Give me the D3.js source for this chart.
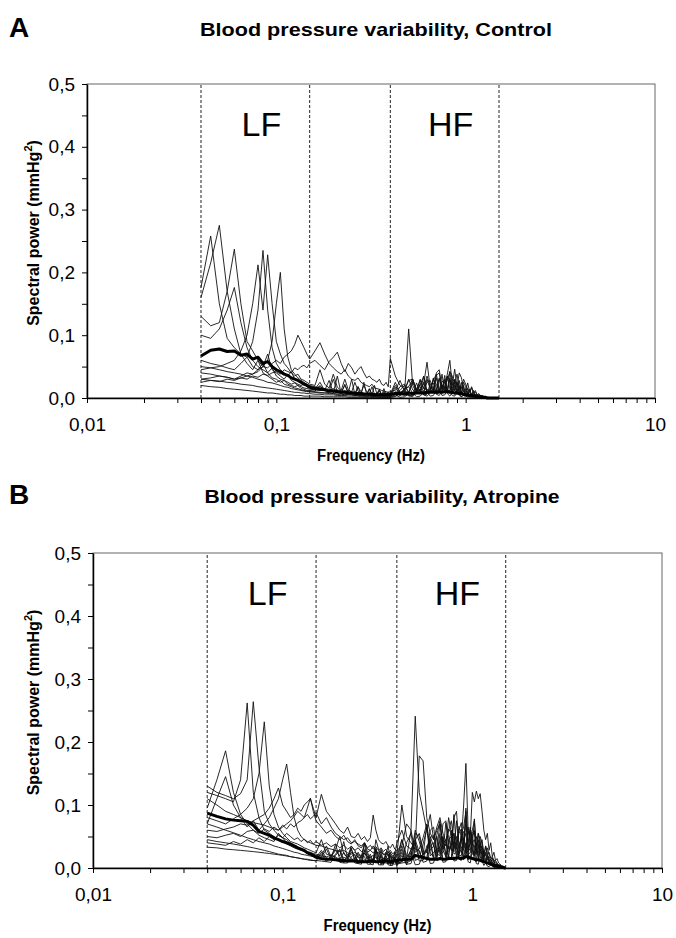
<!DOCTYPE html>
<html><head><meta charset="utf-8">
<script src="https://cdn.jsdelivr.net/npm/d3@7"></script>
<style>
html,body{margin:0;padding:0;background:#fff;}
svg{display:block;font-family:"Liberation Sans",Arial,sans-serif;}
</style></head>
<body><svg id="c" width="676" height="938"></svg>
<script>
// ---------------- DATA ----------------
// Frequency grid (Hz) shared by every spectrum
const freqs = [
 0.040,0.045,0.050,0.055,0.060,0.065,0.070,0.075,0.080,0.085,
 0.090,0.095,0.100,0.105,0.110,0.115,0.120,0.125,0.130,0.135,
 0.140,0.145,0.150,
 0.16,0.17,0.18,0.19,0.20,0.21,0.22,0.23,0.24,0.25,
 0.26,0.27,0.28,0.29,0.30,0.31,0.32,0.33,0.34,0.35,
 0.36,0.37,0.38,0.39,0.40,
 0.425,0.45,0.475,0.5,0.525,0.55,0.575,0.6,0.625,0.65,
 0.675,0.7,0.725,0.75,0.775,0.8,0.825,0.85,0.875,0.9,
 0.925,0.95,0.975,1.0,1.025,1.05,1.075,1.1,1.125,1.15,
 1.175,1.2,1.225,1.25,1.275,1.3,1.325,1.35,1.375,1.4,
 1.425,1.45,1.475,1.5];

// Spectral power values in 0.001 mmHg^2 — Panel A (Control), individual subjects
const a1 = [160,215,275,170,110,70,55,45,60,40,35,30,25,28,22,20,18,16,15,13,12,11,10,
 10,9,8,9,7,6,7,5,6,5,4,5,4,4,3,4,3,3,4,3,3,3,2,3,3,
 3,6,9,4,2,10,12,5,3,8,14,6,4,11,15,7,3,9,6,10,4,2,7,5,1,3,5,2,1,2,0,1,1,0,1,0,0,0,0,0,0,0,0,0];
const a2 = [176,258,150,95,80,70,65,50,45,55,40,32,30,25,28,22,20,18,20,15,14,12,12,
 11,20,12,28,8,35,7,22,8,30,5,18,5,25,5,14,5,20,6,12,3,15,5,10,4,
 6,18,22,9,5,24,10,7,30,14,9,12,32,20,10,35,15,9,30,12,8,25,10,7,15,9,5,12,4,6,3,4,2,1,2,1,1,0,0,0,0,0,0,0];
const a3 = [130,115,120,170,237,150,90,75,60,50,70,45,40,35,30,38,28,25,22,20,22,18,16,
 14,25,12,11,30,10,9,20,8,9,7,18,10,7,6,15,6,7,5,12,5,7,6,5,6,
 20,9,12,28,30,11,13,22,57,16,12,36,40,14,18,28,42,16,24,38,17,15,30,22,14,9,16,6,10,5,6,3,4,2,1,1,0,0,0,0,0,0,0,0];
const a4 = [60,55,52,48,45,55,65,90,140,235,140,80,55,45,40,35,42,30,28,25,22,20,18,
 16,18,14,12,15,11,10,12,9,10,8,9,7,8,6,7,8,6,5,7,5,6,5,4,5,
 7,12,20,8,25,11,30,15,35,18,12,40,45,17,16,38,60,20,46,18,40,32,15,12,24,10,18,9,12,5,7,3,4,2,1,1,1,0,0,0,0,0,0,0];
const a5 = [45,48,50,55,60,75,100,150,212,140,228,150,90,70,55,48,40,35,38,30,28,25,22,
 20,45,22,16,38,17,12,30,13,10,25,11,8,20,10,7,18,6,7,14,5,10,5,8,6,
 25,9,11,30,13,9,22,34,11,13,28,38,14,16,30,11,42,35,12,9,28,8,25,18,6,14,5,9,3,5,2,3,1,1,1,0,0,0,0,0,0,0,0,0];
const a6 = [40,38,35,33,30,32,35,38,42,50,60,90,150,200,110,65,45,38,32,28,25,22,20,
 18,16,15,14,12,13,11,10,12,9,10,8,9,7,8,6,7,6,5,6,5,4,5,4,5,
 6,7,15,18,8,9,22,10,25,28,11,12,30,9,26,8,32,7,28,22,6,18,14,5,10,4,7,3,4,3,2,2,1,1,0,0,0,0,0,0,0,0,0,0];
const a7 = [30,32,35,33,30,35,40,38,45,50,48,55,60,55,65,70,75,85,100,90,80,70,62,
 75,88,70,55,48,42,38,45,35,30,28,32,25,22,20,18,22,16,15,14,12,11,10,9,10,
 12,28,11,8,30,13,9,35,8,11,32,14,9,38,10,13,30,9,12,25,10,7,20,6,5,12,4,3,6,2,1,2,1,0,0,0,0,0,0,0,0,0,0,0];
const a8 = [25,28,26,30,28,32,30,35,33,38,36,40,42,38,45,42,40,48,45,50,52,48,55,
 60,52,45,58,65,73,55,42,55,48,38,45,50,40,32,35,30,28,25,30,22,20,25,18,63,
 35,20,14,18,30,12,28,15,14,10,9,32,12,10,36,13,11,30,26,8,20,7,6,15,10,5,4,6,3,2,2,1,1,0,0,0,0,0,0,0,0,0,0,0];
const a9 = [100,95,110,140,176,120,80,60,50,45,40,48,35,30,28,25,22,24,20,18,16,15,14,
 13,12,14,11,10,12,9,8,10,7,8,6,7,5,6,5,4,5,4,3,4,3,4,3,3,
 17,5,6,110,20,8,9,25,8,10,30,22,9,10,11,35,28,7,20,6,18,5,12,4,8,3,5,3,2,2,1,1,1,0,0,0,0,0,0,0,0,0,0,0];
const a10 = [50,48,45,42,40,38,35,33,30,28,25,24,22,20,18,17,15,14,13,12,11,10,10,
 9,8,8,7,7,6,6,5,5,5,4,4,4,3,3,3,3,2,2,2,2,2,2,2,2,
 10,3,14,4,5,16,18,6,7,22,24,8,9,26,28,10,12,22,20,11,15,7,5,11,8,4,3,5,2,2,1,1,0,0,0,0,0,0,0,0,0,0,0,0];
const a11 = [30,28,27,25,24,22,21,20,18,17,16,15,14,13,12,11,10,9,9,8,8,7,7,
 6,6,5,5,5,4,4,4,3,3,3,3,2,2,2,2,2,2,2,1,1,1,1,1,1,
 2,8,10,3,4,12,14,5,6,16,18,7,8,20,17,9,8,15,12,7,6,10,7,5,3,5,2,3,1,1,1,0,0,0,0,0,0,0,0,0,0,0,0,0];
const a12 = [20,18,17,15,14,13,12,11,10,9,8,8,7,6,6,5,5,4,4,4,3,3,3,
 3,3,2,2,2,2,2,2,1,1,1,1,1,1,1,1,1,1,1,1,1,1,1,1,1,
 5,1,2,6,8,2,3,9,10,3,4,12,14,4,5,12,10,4,3,8,6,2,4,2,3,1,1,1,0,0,0,0,0,0,0,0,0,0,0,0,0,0,0,0];
const aMean = [67,76,78,74,75,68,70,62,65,55,58,50,45,42,38,36,32,30,28,25,22,20,17,
 15,14,13,11,11,10,9,9,8,8,7,7,7,6,6,6,6,5,5,5,5,5,6,5,6,
 7,7,6,8,7,8,8,8,9,9,9,9,10,9,10,10,9,9,8,8,7,7,6,5,5,4,4,3,3,2,2,2,1,1,1,0,0,0,0,0,0,0,0,0];

// Panel B (Atropine), individual subjects
const b1 = [120,115,110,105,140,262,120,80,60,55,50,45,42,38,35,32,30,28,26,24,22,20,18,
 17,30,15,38,14,25,15,32,11,20,10,28,11,18,9,30,7,22,6,15,6,20,6,12,6,
 30,8,12,45,25,14,16,50,35,18,55,12,17,40,60,22,25,35,48,16,22,65,45,30,20,40,15,30,22,12,9,15,10,7,5,6,3,2,1,0,0,0,0,0];
const b2 = [130,120,115,110,118,140,264,160,90,70,60,52,48,45,40,36,34,30,28,25,24,22,20,
 19,18,20,16,15,17,14,13,15,12,11,13,10,12,9,11,8,10,9,8,7,8,7,6,7,
 10,40,55,12,15,38,62,19,25,30,70,28,18,45,50,26,75,35,24,40,80,32,38,55,60,26,45,28,35,18,25,16,18,12,12,9,8,6,3,4,2,1,0,0];
const b3 = [80,75,70,78,85,95,110,150,232,130,85,65,55,48,42,40,38,35,32,30,28,26,24,
 45,22,20,30,50,22,17,35,28,16,18,40,25,13,12,45,30,14,12,22,35,11,10,25,8,
 35,12,18,60,42,20,68,24,18,50,22,25,72,48,28,85,32,22,55,65,90,26,40,60,75,28,30,50,40,22,20,32,22,15,15,10,10,7,4,5,3,2,1,0];
const b4 = [95,140,186,120,85,70,60,52,48,45,42,55,48,40,38,35,32,30,28,26,25,23,22,
 20,35,18,28,19,42,15,30,14,25,15,38,14,22,10,32,9,28,8,20,9,25,7,18,7,
 10,16,28,40,18,21,30,45,14,19,35,50,22,26,38,55,17,19,42,48,21,13,60,40,12,10,35,28,9,20,15,7,10,5,6,4,3,3,1,2,1,0,0,0];
const b5 = [70,110,145,100,80,65,75,60,70,80,95,110,140,165,120,80,60,50,45,42,40,38,36,
 35,32,30,28,26,28,24,22,25,21,20,23,18,17,20,16,15,18,14,13,16,12,11,14,10,
 45,15,60,25,30,48,70,28,35,52,75,30,38,80,55,32,42,60,72,35,95,40,65,36,78,34,55,32,45,22,35,20,25,16,18,12,12,8,4,5,3,2,1,0];
const b6 = [60,58,62,65,70,68,75,80,85,95,110,127,100,90,80,85,95,90,100,105,110,95,80,
 117,90,80,70,60,55,65,50,48,55,45,50,42,48,84,60,45,40,38,42,35,32,38,30,28,
 35,70,60,241,120,90,60,85,45,65,80,55,42,60,75,40,38,55,62,35,70,32,28,50,58,26,24,40,30,15,13,20,14,9,9,7,5,5,2,3,2,1,1,0];
const b7 = [50,48,52,55,50,58,60,55,62,58,65,60,68,62,70,65,72,75,80,85,78,82,88,
 70,80,65,55,50,45,48,40,42,38,35,40,32,36,30,34,28,32,26,30,24,28,22,26,20,
 100,50,40,30,178,170,80,55,45,60,70,40,35,62,55,32,30,66,50,28,25,58,45,22,20,50,38,18,15,28,20,13,10,14,9,7,5,5,2,3,2,1,1,0];
const b8 = [40,38,36,42,38,45,40,48,42,50,45,52,48,55,50,45,48,42,46,40,44,38,42,
 36,40,34,38,32,36,30,34,28,32,26,30,25,28,24,27,22,26,21,24,20,23,19,22,18,
 45,20,18,55,50,22,25,60,65,26,28,70,75,30,34,80,90,38,42,100,166,60,48,120,105,122,110,118,90,60,45,55,28,40,18,25,12,15,8,6,4,3,2,0];
const b9 = [33,32,30,29,28,27,26,25,24,23,22,21,20,19,18,17,16,15,14,14,13,12,12,
 11,10,20,18,9,8,22,16,8,7,20,18,6,6,15,20,5,5,16,14,5,4,18,12,4,
 20,5,25,5,6,22,28,7,8,30,32,9,10,35,30,11,12,38,34,13,40,14,15,33,36,14,13,28,22,10,8,16,12,7,8,5,4,5,2,3,2,1,1,0];
const b10 = [45,42,40,38,36,34,32,30,28,26,24,22,21,20,18,17,16,15,14,13,12,12,11,
 25,10,9,20,28,8,8,18,22,7,6,24,18,6,5,26,20,5,5,16,22,4,4,15,4,
 25,6,7,30,28,9,11,35,40,12,14,38,45,15,17,42,50,19,20,44,55,22,24,40,45,22,20,35,28,14,11,20,14,9,9,7,5,5,3,3,2,2,1,0];
const b11 = [110,100,90,85,80,75,72,70,68,65,62,60,65,70,75,82,90,85,80,95,111,90,75,
 65,55,60,50,45,52,42,38,45,35,32,40,30,28,35,26,24,30,22,20,26,18,17,22,40,
 60,35,30,45,55,28,25,48,52,22,20,45,40,18,16,42,38,14,12,35,30,10,8,28,22,7,6,18,12,4,8,3,2,5,3,1,1,1,0,0,0,0,0,0];
const b12 = [70,65,60,56,52,48,45,42,40,38,35,33,31,29,27,25,24,22,21,20,19,18,17,
 28,16,14,22,30,13,12,25,20,11,10,28,22,9,8,30,20,8,7,25,22,7,6,18,6,
 8,9,30,38,11,12,35,42,14,15,45,50,17,18,48,55,20,22,52,58,24,26,62,50,25,22,55,45,16,12,35,25,9,7,16,10,5,3,6,3,2,2,1,0];
const bMean = [87,82,78,76,75,74,68,58,55,52,48,45,42,40,38,35,32,30,28,24,22,20,17,
 15,14,14,13,12,12,11,11,11,10,10,10,10,11,11,10,10,11,10,11,11,10,11,11,12,
 13,14,14,20,18,17,15,14,14,14,15,14,14,15,15,15,16,16,15,16,18,18,16,15,14,13,13,12,11,10,9,8,7,6,5,4,3,3,2,2,1,1,0,0];

// Axis ticks / labels
const xMajor = [0.01, 0.1, 1, 10];
const xMajorLabels = ["0,01", "0,1", "1", "10"];
const yTicks = [0, 0.05, 0.1, 0.15, 0.2, 0.25, 0.3, 0.35, 0.4, 0.45, 0.5];
const yLabels = ["0,0", "0,1", "0,2", "0,3", "0,4", "0,5"];
const bandEdges = [0.04, 0.15, 0.4, 1.5];
const bandNames = ["LF", "HF"];
const titles = ["Blood pressure variability, Control", "Blood pressure variability, Atropine"];
const panelLetters = ["A", "B"];

// ---------------- DRAW ----------------
const svg = d3.select("#c");
const panels = [
  {series: [a1,a2,a3,a4,a5,a6,a7,a8,a9,a10,a11,a12], mean: aMean,
   L: 87, R: 655, T: 84, B: 398, titleY: 36, titleX: 376, titleW: 352},
  {series: [b1,b2,b3,b4,b5,b6,b7,b8,b9,b10,b11,b12], mean: bMean,
   L: 93, R: 662, T: 553, B: 868, titleY: 503, titleX: 382, titleW: 355}
];

panels.forEach((p, pi) => {
  const x = d3.scaleLog().domain([0.01, 10]).range([p.L, p.R]);
  const y = d3.scaleLinear().domain([0, 0.5]).range([p.B, p.T]);
  const g = svg.append("g");

  // panel letter and title
  g.append("text").attr("x", 9).attr("y", p.titleY + 1)
    .attr("font-size", 28).attr("font-weight", "bold").text(panelLetters[pi]);
  g.append("text").attr("x", p.titleX).attr("y", p.titleY)
    .attr("text-anchor", "middle").attr("font-size", 19).attr("font-weight", "bold")
    .attr("textLength", p.titleW).attr("lengthAdjust", "spacingAndGlyphs")
    .text(titles[pi]);

  // frame (top/right)
  g.append("rect").attr("x", x(0.01)).attr("y", y(0.5))
    .attr("width", x(10) - x(0.01)).attr("height", y(0) - y(0.5))
    .attr("fill", "none").attr("stroke", "#666").attr("stroke-width", 1);

  // band boundaries
  g.selectAll("line.band").data(bandEdges).enter().append("line")
    .attr("x1", d => x(d)).attr("x2", d => x(d))
    .attr("y1", y(0)).attr("y2", y(0.5))
    .attr("stroke", "#222").attr("stroke-width", 1).attr("stroke-dasharray", "3,2");

  // band labels
  bandNames.forEach((nm, i) => {
    const lo = bandEdges[i * 2], hi = bandEdges[i * 2 + 1];
    g.append("text").attr("x", x(Math.sqrt(lo * hi)) + 6).attr("y", y(0.5) + 52)
      .attr("text-anchor", "middle").attr("font-size", 34).text(nm);
  });

  // spectra
  const line = d3.line().x((d, i) => x(freqs[i])).y(d => y(d / 1000));
  g.selectAll("path.s").data(p.series).enter().append("path")
    .attr("d", d => line(d)).attr("fill", "none")
    .attr("stroke", "#111").attr("stroke-width", 0.9).attr("stroke-linejoin", "miter");
  g.append("path").attr("d", line(p.mean)).attr("fill", "none")
    .attr("stroke", "#000").attr("stroke-width", 3).attr("stroke-linejoin", "round");

  // axes
  const xAxis = d3.axisBottom(x).tickValues(x.ticks())
    .tickFormat(d => { const k = xMajor.indexOf(d); return k >= 0 ? xMajorLabels[k] : ""; })
    .tickSize(5).tickSizeOuter(0);
  const xg = g.append("g").attr("transform", `translate(0,${y(0)})`).call(xAxis);
  xg.selectAll("text").attr("font-size", 19).attr("dy", "1.32em").attr("font-family", "Liberation Sans, Arial, sans-serif");
  xg.select(".domain").attr("stroke", "#000").attr("stroke-width", 1.5);

  const yAxis = d3.axisLeft(y).tickValues(yTicks)
    .tickFormat((d, i) => i % 2 === 0 ? yLabels[i / 2] : "")
    .tickSize(5).tickSizeOuter(0);
  const yg = g.append("g").attr("transform", `translate(${x(0.01)},0)`).call(yAxis);
  yg.selectAll("text").attr("font-size", 19).attr("x", -12).attr("font-family", "Liberation Sans, Arial, sans-serif");
  yg.select(".domain").attr("stroke", "#000").attr("stroke-width", 1.5);

  // axis titles
  g.append("text").attr("x", (p.L + p.R) / 2).attr("y", p.B + 63)
    .attr("text-anchor", "middle").attr("font-size", 16).attr("font-weight", "bold")
    .attr("textLength", 108).attr("lengthAdjust", "spacingAndGlyphs")
    .text("Frequency (Hz)");
  const yt = g.append("text")
    .attr("transform", `translate(39,${(p.T + p.B) / 2 - 8}) rotate(-90)`)
    .attr("text-anchor", "middle").attr("font-size", 16).attr("font-weight", "bold");
  yt.append("tspan").text("Spectral power (mmHg");
  yt.append("tspan").attr("font-size", 11).attr("dy", -7).text("2");
  yt.append("tspan").attr("dy", 7).text(")");
});
</script></body></html>
